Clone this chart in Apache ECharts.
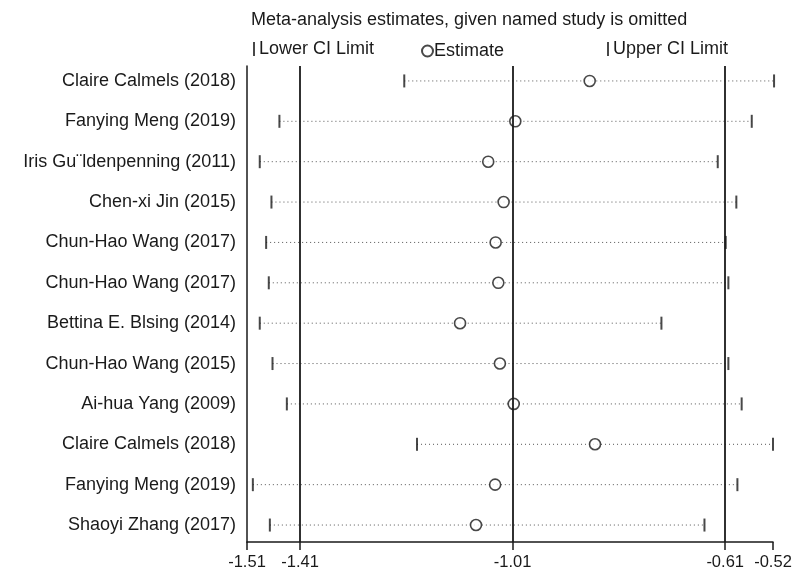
<!DOCTYPE html>
<html>
<head>
<meta charset="utf-8">
<script src="https://cdn.jsdelivr.net/npm/echarts@6/dist/echarts.min.js"></script>
<style>
html,body{margin:0;padding:0;background:#fff;}
#chart{width:799px;height:573px;}
</style>
</head>
<body>
<div id="chart"></div>
<script>
// Studies (top to bottom)
var studies = [
  'Claire Calmels (2018)',
  'Fanying Meng (2019)',
  'Iris Gu\u00A8ldenpenning (2011)',
  'Chen-xi Jin (2015)',
  'Chun-Hao Wang (2017)',
  'Chun-Hao Wang (2017)',
  'Bettina E. Blsing (2014)',
  'Chun-Hao Wang (2015)',
  'Ai-hua Yang (2009)',
  'Claire Calmels (2018)',
  'Fanying Meng (2019)',
  'Shaoyi Zhang (2017)'
];
var lowerCI  = [-1.214, -1.449, -1.486, -1.464, -1.474, -1.469, -1.486, -1.462, -1.435, -1.190, -1.499, -1.467];
var estimate = [-0.865, -1.005, -1.056, -1.027, -1.042, -1.037, -1.109, -1.034, -1.008, -0.855, -1.043, -1.079];
var upperCI  = [-0.518, -0.560, -0.624, -0.589, -0.609, -0.604, -0.730, -0.604, -0.579, -0.520, -0.587, -0.649];
var xTicks = [-1.51, -1.41, -1.01, -0.61, -0.52];
var refLines = [-1.41, -1.01, -0.61];

var rows = studies.map(function(s, i){ return i + 1; });
var FONT = '"Liberation Sans", Arial, sans-serif';
var INK = '#1a1a1a';

var chart = echarts.init(document.getElementById('chart'), null, {renderer: 'canvas'});

var option = {
  backgroundColor: '#fff',
  animation: false,
  textStyle: {fontFamily: FONT},
  title: {
    text: 'Meta-analysis estimates, given named study is omitted',
    left: 246, top: 6,
    textStyle: {fontSize: 18, fontWeight: 'normal', color: INK, fontFamily: FONT}
  },
  legend: [
    {data: [{name: 'Lower CI Limit', icon: 'rect'}], left: 248, top: 35, itemWidth: 2, itemHeight: 14,
     textStyle: {fontSize: 18, color: INK, fontFamily: FONT, padding: [0,0,0,-1]}, selectedMode: false},
    {data: [{name: 'Estimate'}], left: 416, top: 37, itemWidth: 11, itemHeight: 11,
     textStyle: {fontSize: 18, color: INK, fontFamily: FONT, padding: [0,0,0,-4]}, selectedMode: false},
    {data: [{name: 'Upper CI Limit', icon: 'rect'}], left: 602, top: 35, itemWidth: 2, itemHeight: 14,
     textStyle: {fontSize: 18, color: INK, fontFamily: FONT, padding: [0,0,0,-1]}, selectedMode: false}
  ],
  grid: {left: 247, right: 26, top: 66, bottom: 31, containLabel: false},
  xAxis: {
    type: 'value', min: -1.51, max: -0.52,
    splitLine: {show: false},
    axisLine: {show: true, onZero: false, lineStyle: {color: INK, width: 1.5}},
    axisTick: {show: true, customValues: xTicks, length: 8, lineStyle: {color: INK, width: 1.5}},
    axisLabel: {customValues: xTicks, formatter: function(v){ return v.toFixed(2); },
                fontSize: 16.5, color: INK, fontFamily: FONT, margin: 12}
  },
  yAxis: {
    type: 'value', inverse: true, min: 0.63, max: 12.42,
    splitLine: {show: false},
    axisLine: {show: true, onZero: false, lineStyle: {color: INK, width: 1.5}},
    axisTick: {show: false},
    axisLabel: {customValues: rows, formatter: function(v){ return studies[Math.round(v) - 1]; },
                fontSize: 18, color: INK, fontFamily: FONT, margin: 11}
  },
  series: [
    {
      name: 'ci', type: 'custom', z: 1,
      data: rows.map(function(r, i){ return [lowerCI[i], upperCI[i], r]; }),
      renderItem: function(params, api){
        var p1 = api.coord([api.value(0), api.value(2)]);
        var p2 = api.coord([api.value(1), api.value(2)]);
        return {type: 'line', shape: {x1: p1[0], y1: p1[1], x2: p2[0], y2: p2[1]},
                style: {stroke: '#555', lineWidth: 1, lineDash: [1, 3]}};
      },
      markLine: {
        silent: true, symbol: 'none', label: {show: false},
        lineStyle: {color: INK, width: 1.8, type: 'solid'},
        data: refLines.map(function(v){ return {xAxis: v}; })
      }
    },
    {
      name: 'Lower CI Limit', type: 'scatter', z: 3, clip: false,
      symbol: 'rect', symbolSize: [2, 13],
      itemStyle: {color: INK},
      data: rows.map(function(r, i){ return [lowerCI[i], r]; })
    },
    {
      name: 'Upper CI Limit', type: 'scatter', z: 3, clip: false,
      symbol: 'rect', symbolSize: [2, 13],
      itemStyle: {color: INK},
      data: rows.map(function(r, i){ return [upperCI[i], r]; })
    },
    {
      name: 'Estimate', type: 'scatter', z: 4, clip: false,
      symbol: 'circle', symbolSize: 11,
      itemStyle: {color: '#fff', borderColor: INK, borderWidth: 1.6},
      data: rows.map(function(r, i){ return [estimate[i], r]; })
    }
  ]
};
chart.setOption(option);
</script>
</body>
</html>
